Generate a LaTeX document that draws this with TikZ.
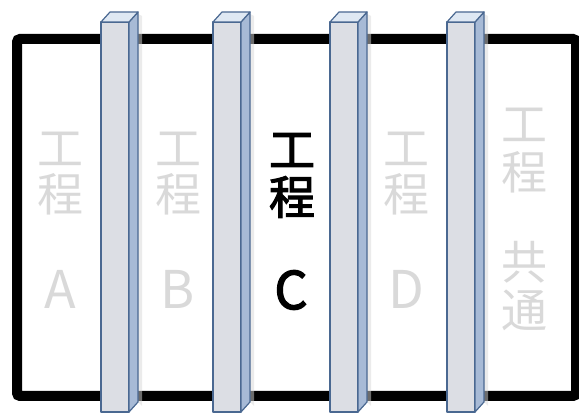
\documentclass[tikz,border=0pt]{standalone}
\usepackage{fontspec}
\setmainfont{Noto Sans CJK JP}
\newfontfamily\cjkmed{Noto Sans CJK JP}[FakeBold=2.5]
\usetikzlibrary{calc}
\definecolor{pfront}{HTML}{DCDEE4}
\definecolor{pside}{HTML}{A7BAD6}
\definecolor{ptop}{HTML}{DFE8F3}
\definecolor{pline}{HTML}{4A6891}
\definecolor{fadetxt}{HTML}{D9D9D9}
\tikzset{
  frame/.style={draw=black, line width=10pt, rounded corners=3pt, fill=white},
  pface/.style={draw=pline, line width=1.2pt, line join=round},
  glyph/.style={inner sep=0pt, anchor=center, font=\fontsize{46}{46}\selectfont},
  latin/.style={inner sep=0pt, anchor=center, font=\fontsize{52}{52}\selectfont},
  faded/.style={glyph, text=fadetxt},
  fadedl/.style={latin, text=fadetxt},
  dark/.style={glyph, text=black, font=\fontsize{46}{46}\selectfont\cjkmed},
  darkl/.style={latin, text=black, font=\fontsize{52}{52}\selectfont\cjkmed},
}
\newcommand{\pillar}[1]{%
  \fill[gray!30, opacity=0.5] (#1+37,14) -- (#1+41,16) -- (#1+41,406) -- (#1+37,402) -- cycle;
  \draw[pface, fill=pfront] (#1,22) rectangle (#1+28,412);
  \draw[pface, fill=pside] (#1+28,22) -- (#1+37,12) -- (#1+37,402) -- (#1+28,412) -- cycle;
  \draw[pface, fill=ptop] (#1,22) -- (#1+9,12) -- (#1+37,12) -- (#1+28,22) -- cycle;
}
\begin{document}
\begin{tikzpicture}[x=1pt, y=-1pt]
\useasboundingbox (0,0) rectangle (579,414);
\draw[frame] (17,39) rectangle (576,396);
% columns text
\node[faded] (a1) at (60,149) {工};
\node[faded] (a2) at (60,194) {程};
\node[fadedl] (a3) at (60,289) {A};
\node[faded] (b1) at (178,149) {工};
\node[faded] (b2) at (178,194) {程};
\node[fadedl] (b3) at (178,289) {B};
\node[dark] (c1) at (292,150) {工};
\node[dark] (c2) at (292,197) {程};
\node[darkl] (c3) at (291,290) {C};
\node[faded] (d1) at (406,149) {工};
\node[faded] (d2) at (406,194) {程};
\node[fadedl] (d3) at (406,289) {D};
\node[faded] (e1) at (524,125) {工};
\node[faded] (e2) at (524,172) {程};
\node[faded] (e3) at (524,262) {共};
\node[faded] (e4) at (524,310) {通};
% pillars
\pillar{101}
\pillar{213}
\pillar{330}
\pillar{447}
\end{tikzpicture}
\end{document}
